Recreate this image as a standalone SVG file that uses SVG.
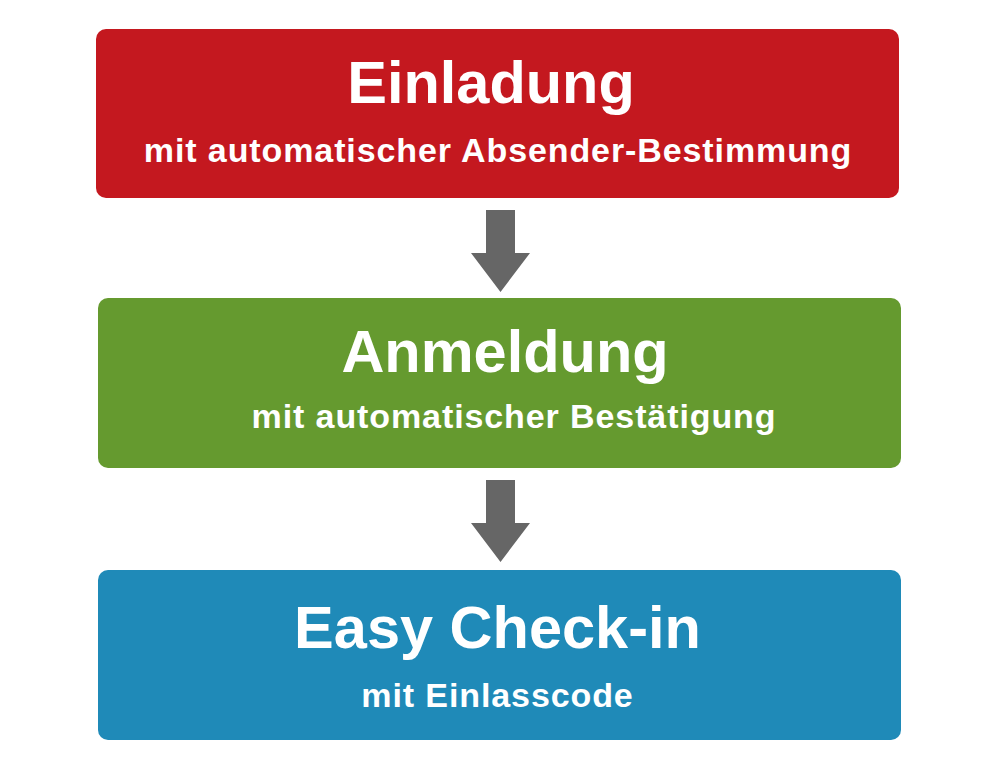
<svg xmlns="http://www.w3.org/2000/svg" width="1000" height="772" viewBox="0 0 1000 772">
<style>
.box{stroke:none}
.t{font-family:"Liberation Sans",Arial,sans-serif;font-weight:bold;fill:#ffffff;text-anchor:middle}
.h{font-size:59.5px}
.s{font-size:34px;letter-spacing:0.9px}
.arr{fill:#666666}
</style>
<rect width="1000" height="772" fill="#ffffff"/>
<g id="node-einladung">
<rect class="box" x="96" y="29" width="803" height="169" rx="10" fill="#C4181F"/>
<text class="t h" x="491" y="103">Einladung</text>
<text class="t s" x="498" y="162">mit automatischer Absender-Bestimmung</text>
</g>
<g id="node-anmeldung">
<rect class="box" x="98" y="298" width="803" height="170" rx="10" fill="#659A2F"/>
<text class="t h" x="505" y="372">Anmeldung</text>
<text class="t s" x="514" y="428">mit automatischer Bestätigung</text>
</g>
<g id="node-checkin">
<rect class="box" x="98" y="570" width="803" height="170" rx="10" fill="#1F8AB8"/>
<text class="t h" x="497.5" y="648">Easy Check-in</text>
<text class="t s" x="497.5" y="707">mit Einlasscode</text>
</g>
<g id="connectors">
<polygon class="arr" points="486,210 515,210 515,253 530,253 500.5,292 471,253 486,253"/>
<polygon class="arr" points="486,480 515,480 515,523 530,523 500.5,562 471,523 486,523"/>
</g>
</svg>
